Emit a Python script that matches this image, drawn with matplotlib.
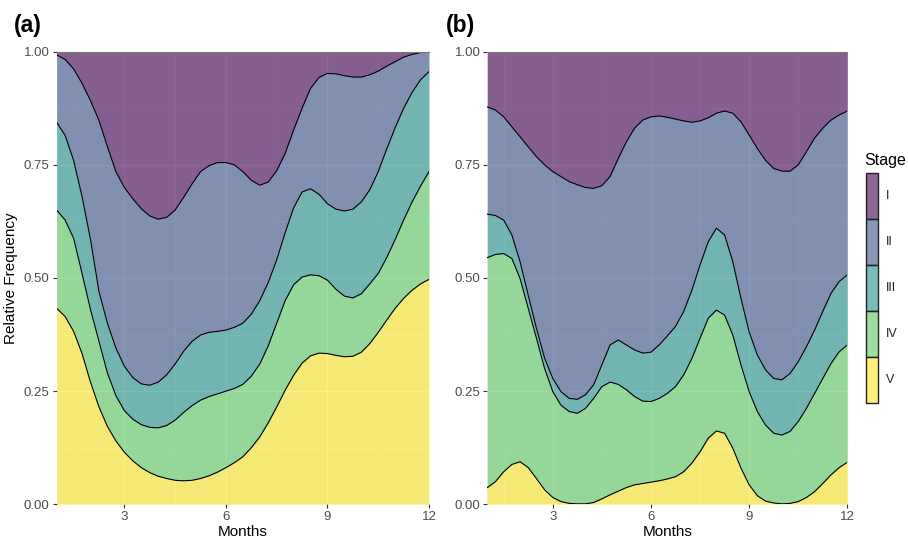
import matplotlib
matplotlib.use("Agg")
import matplotlib.pyplot as plt
import numpy as np
from matplotlib.patches import Rectangle

plt.rcParams['font.family'] = ['Liberation Sans', 'DejaVu Sans']

# months, quarter-month steps
months = [1, 1.25, 1.5, 1.75, 2, 2.25, 2.5, 2.75, 3, 3.25, 3.5, 3.75, 4, 4.25,
          4.5, 4.75, 5, 5.25, 5.5, 5.75, 6, 6.25, 6.5, 6.75, 7, 7.25, 7.5, 7.75,
          8, 8.25, 8.5, 8.75, 9, 9.25, 9.5, 9.75, 10, 10.25, 10.5, 10.75, 11,
          11.25, 11.5, 11.75, 12]

stages = ['I', 'II', 'III', 'IV', 'V']
colors = ['#440154', '#3B528B', '#21908C', '#5DC863', '#FDE725']

# panel (a): upper edge of each stacked band (cumulative, from the bottom)
a_top_V = [.433, .415, .382, .333, .270, .215, .172, .140, .115, .096, .081, .070,
           .062, .057, .053, .052, .053, .057, .063, .071, .081, .092, .105,
           .125, .149, .180, .215, .252, .285, .312, .328, .334, .333, .329, .326,
           .327, .336, .355, .380, .407, .433, .455, .473, .487, .497]
a_top_IV = [.650, .628, .588, .510, .430, .360, .290, .240, .207, .188, .176, .170,
            .169, .174, .186, .203, .218, .230, .238, .244, .250, .256, .265,
            .283, .310, .350, .400, .450, .485, .502, .507, .505, .495, .475, .460,
            .456, .465, .487, .510, .545, .585, .628, .668, .703, .735]
a_top_III = [.844, .815, .760, .680, .585, .470, .400, .345, .305, .280, .266, .263,
             .270, .286, .310, .338, .360, .374, .380, .382, .385, .391, .400,
             .420, .450, .490, .540, .600, .655, .690, .697, .685, .664, .652, .648,
             .652, .668, .695, .735, .785, .832, .875, .910, .938, .956]
a_top_II = [.993, .983, .962, .930, .892, .848, .790, .735, .700, .675, .653, .637,
            .630, .634, .650, .678, .708, .735, .748, .755, .755, .750, .735,
            .716, .705, .712, .737, .775, .827, .875, .919, .943, .952, .951, .947,
            .944, .944, .949, .957, .968, .978, .988, .994, .998, 1.000]

# panel (b)
b_top_V = [.037, .050, .072, .088, .094, .081, .057, .032, .015, .006, .002, .001,
           .001, .004, .012, .021, .029, .037, .043, .046, .049, .052, .056,
           .061, .072, .091, .116, .146, .162, .157, .124, .080, .043, .019, .007,
           .003, .001, .002, .006, .015, .028, .046, .065, .081, .093]
b_top_IV = [.545, .552, .554, .543, .499, .433, .367, .300, .249, .219, .205, .201,
            .212, .234, .260, .270, .265, .253, .238, .228, .227, .234, .245,
            .260, .286, .322, .367, .411, .429, .418, .374, .308, .249, .205, .175,
            .157, .153, .161, .183, .212, .245, .278, .311, .337, .352]
b_top_III = [.641, .638, .628, .595, .536, .462, .389, .323, .278, .249, .234, .232,
             .242, .264, .308, .352, .363, .352, .341, .334, .336, .352, .372,
             .393, .426, .473, .529, .580, .610, .595, .536, .455, .381, .330, .297,
             .278, .275, .289, .315, .348, .385, .426, .466, .492, .507]
b_top_II = [.878, .871, .856, .834, .812, .790, .768, .750, .735, .724, .713, .706,
            .700, .698, .704, .724, .764, .801, .831, .849, .856, .858, .855,
            .851, .847, .844, .847, .854, .864, .869, .864, .845, .816, .786, .760,
            .742, .736, .736, .750, .779, .809, .831, .849, .860, .869]


def draw_panel(ax, edges, tag):
    x = np.array(months)
    zero = np.zeros(len(x))
    one = np.ones(len(x))
    # bottom-up: V, IV, III, II, I
    bounds = [zero] + [np.array(e) for e in edges] + [one]
    band_colors = colors[::-1]
    for i in range(5):
        ax.fill_between(x, bounds[i], bounds[i + 1], color=band_colors[i],
                        alpha=0.6, linewidth=0, zorder=2)
    for e in edges:
        ax.plot(x, e, color='black', lw=0.8, zorder=3)
    ax.plot([1, 12], [1, 1], color='#777777', lw=0.8, zorder=3, clip_on=False)

    ax.set_facecolor('#EBEBEB')
    ax.set_xlim(1, 12)
    ax.set_ylim(0, 1)
    ax.set_xticks([3, 6, 9, 12])
    ax.set_xticks([1.5, 4.5, 7.5, 10.5], minor=True)
    ax.set_yticks([0, 0.25, 0.5, 0.75, 1.0])
    ax.set_yticks([0.125, 0.375, 0.625, 0.875], minor=True)
    ax.set_yticklabels(['0.00', '0.25', '0.50', '0.75', '1.00'])
    ax.grid(True, which='major', color='white', lw=0.9, zorder=0)
    ax.grid(True, which='minor', color='white', lw=0.45, zorder=0)
    ax.set_axisbelow(True)
    for s in ax.spines.values():
        s.set_visible(False)
    ax.tick_params(which='major', length=3, width=0.8, color='#333333',
                   labelcolor='#4D4D4D', labelsize=9.5, pad=2)
    ax.tick_params(which='minor', length=0)
    ax.set_xlabel('Months', fontsize=11, labelpad=1)
    ax.text(-0.115, 1.043, tag, transform=ax.transAxes, fontsize=16.5,
            fontweight='bold', va='baseline', ha='left')


fig = plt.figure(figsize=(9.08, 5.4), dpi=100)
ax1 = fig.add_axes([0.0624, 0.0661, 0.4101, 0.8382])
ax2 = fig.add_axes([0.5367, 0.0661, 0.3965, 0.8382])

draw_panel(ax1, [a_top_V, a_top_IV, a_top_III, a_top_II], '(a)')
draw_panel(ax2, [b_top_V, b_top_IV, b_top_III, b_top_II], '(b)')
ax1.set_ylabel('Relative Frequency', fontsize=11, labelpad=4)

# legend drawn by hand in figure pixels
fig.text(864 / 908, 1 - 160 / 540, 'Stage', fontsize=11.5, va='center', ha='left')
key_top = 173.3
key_h = 45.9
for i, (st, c) in enumerate(zip(stages, colors)):
    y0 = key_top + i * key_h
    rect = Rectangle((866 / 908, 1 - (y0 + key_h) / 540), 11.5 / 908, key_h / 540,
                     transform=fig.transFigure, facecolor=c, alpha=0.6,
                     edgecolor='none')
    fig.patches.append(rect)
    edge = Rectangle((866 / 908, 1 - (y0 + key_h) / 540), 11.5 / 908, key_h / 540,
                     transform=fig.transFigure, facecolor='none',
                     edgecolor='#222222', lw=1.0)
    fig.patches.append(edge)
    fig.text(886 / 908, 1 - (y0 + key_h / 2) / 540, st, fontsize=9,
             va='center', ha='left', color='#222222')

fig.savefig('out.png', dpi=100)
